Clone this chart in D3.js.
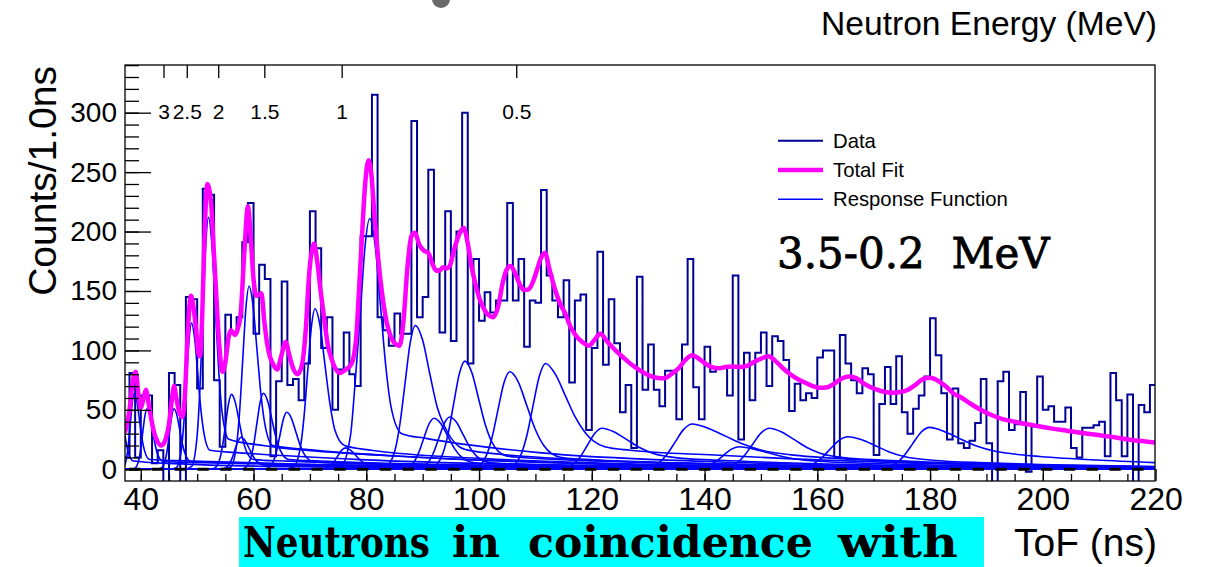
<!DOCTYPE html>
<html>
<head>
<meta charset="utf-8">
<script src="https://cdn.jsdelivr.net/npm/d3@7"></script>
<style>
  html, body { margin: 0; padding: 0; background: #fff; }
  svg { display: block; }
</style>
</head>
<body>
<svg id="chart" width="1210" height="567"></svg>
<script>
// ---------------- data ----------------
// Histogram: counts per 1 ns bin, first bin starts at 37 ns
const binStart = 37;
const binWidth = 1;
const counts = [
  10, 81, 10, 62, 62, 5, 16, -15, 81, 71, -15, 145, 143, 68, 236, 231, 75, 19,      // 37-54
  130, 114, 128, 191, 224, 114, 172, 160, 11, 74, 158, 71, 76, 58, 89, 217, 186,   // 55-71
  102, 128, 50, 84, 115, 80, 70, 196, 196, 315, 128, 117, 104, 131, 114, 114, 293, // 72-88
  128, 145, 252, 168, 115, 217, 108, 200, 300, 89, 177, 125, 149, 132, 142, 142,   // 89-104
  224, 142, 177, 103, 142, 140, 235, 163, 142, 128, 159, 73, 142, 147, 33, 102,    // 105-120
  183, 88, 143, 106, 48, 71, 18, 162, 67, 105, 67, 53, 83, 83, 42, 105, 177, 69,   // 121-138
  42, 103, 82, 86, 86, 62, 163, 25, 98, 58, 98, 115, 70, 112, 108, 92, 49, 72,     // 139-156
  58, 64, 60, 94, 100, 100, 10, 113, 89, 75, 64, 85, 80, 12, 55, 86, 55, 95, 48,   // 157-175
  30, 51, 62, 78, 127, 96, 64, 25, 68, 22, 18, 24, 39, 76, 22, -15, 74, 82, 33,    // 176-194
  38, 65, -2, 36, 78, 50, 53, 40, 40, 52, 18, 10, 35, 35, 37, 40, 11, 81, 58, 11,  // 195-214
  63, -15, 54, 48, 71                                                              // 215-219
];

// Total fit: [ToF (ns), counts]
const fitPoints = [
  [37.2,31],[38.0,50],[38.6,75],[39.1,82],[39.6,62],[40.0,52],[40.5,60],[40.9,67],[41.5,52],
  [42.3,32],[43.0,23],[43.6,20],[44.3,24],[45.0,38],[45.6,62],[45.9,70],[46.3,60],[46.9,47],
  [47.4,44],[47.8,60],[48.3,112],[48.9,146],[49.3,138],[49.8,118],[50.2,98],[50.5,95],[50.9,130],
  [51.3,195],[51.8,240],[52.5,222],[53.0,180],[53.3,154],[53.9,106],[54.5,82],[55.0,90],[55.6,112],
  [56.0,117],[56.7,113],[57.2,118],[57.7,130],[58.4,185],[59.0,221],[59.5,195],[60.0,160],
  [60.5,146],[61.0,147],[61.4,148],[61.9,125],[62.4,106],[62.9,95],[63.5,88],[64.2,84],[64.9,95],
  [65.7,107],[66.4,95],[67.1,84],[67.8,80],[68.6,88],[69.3,120],[69.8,160],[70.3,183],[70.7,190],
  [71.3,175],[71.9,150],[72.5,128],[73.2,104],[73.7,95],[74.5,85],[75.3,81],[76.4,84],[77.4,89],
  [78.2,110],[78.7,150],[79.2,193],[79.8,240],[80.4,260],[80.9,248],[81.5,210],[82.1,178],
  [82.8,148],[83.6,124],[84.4,111],[85.3,105],[85.9,104],[86.6,125],[87.3,170],[88.0,196],
  [88.6,199],[89.4,189],[90.2,184],[91.0,182],[91.8,172],[92.4,167],[93.0,167],[93.6,170],
  [94.2,169],[94.8,171],[95.6,185],[96.5,198],[97.3,203],[98.0,190],[98.7,170],[99.3,157],
  [100.2,142],[101.1,133],[101.9,129],[102.5,128],[103.4,137],[104.2,157],[104.9,168],[105.6,171],
  [106.3,166],[107.1,157],[107.9,151],[108.7,151],[109.5,157],[110.3,168],[111.0,178],[111.7,182],
  [112.5,168],[113.5,151],[114.4,139],[115.3,131],[116.2,120],[117.1,113],[118.3,107],[119.5,104],
  [120.5,109],[121.5,114],[122.8,107],[124.2,100],[125.6,94],[127.1,88],[128.6,83],[130.1,79],
  [131.5,77],[132.8,76.5],[134.1,80],[135.4,85],[136.6,92],[137.8,96],[139.0,93],[140.1,89],
  [141.3,86],[142.5,85],[143.7,86],[144.9,86.4],[146.3,86],[147.5,87],[148.7,90],[150.0,93],
  [151.3,95],[152.6,91],[153.9,85],[155.2,80],[156.5,76],[157.8,73],[159.2,70],[160.5,68.5],
  [161.8,69],[163.0,72],[164.2,76],[165.5,78],[166.8,77],[168.0,73],[169.3,69.5],[170.6,67],
  [172.0,65],[173.4,64.4],[174.8,65],[176.1,67],[177.4,71],[178.6,75.5],[179.7,77],[180.8,76],
  [181.9,73],[183.0,69],[184.1,64],[185.3,61],[186.6,57],[187.9,53],[189.2,49.5],[190.5,46.5],
  [191.8,44],[193.0,42],[194.5,40.5],[196.0,39],[197.8,37.5],[199.5,36],[202.0,34],[204.5,32.3],
  [207.0,30.5],[209.5,29],[212.0,27.5],[214.5,25.5],[217.0,24],[220.0,22.5]
];

// Individual response functions: [ToF (ns), counts]
const responseCurves = [
  [[35.3,30],[36.0,60],[36.45,54],[36.9,39],[37.35,24],[37.8,14],[38.7,7],[46,4.8],[66,2.2],[100,0.8],[220,0.1]],
  [[35.7,0],[36.75,0.7],[37.45,8.6],[37.8,20.8],[38.15,38.8],[38.5,56.5],[38.85,64],[39.3,57.4],[39.75,42],[40.2,26.4],[40.65,15.9],[41.55,8.3],[48.85,7],[68.85,4.2],[98.85,2],[138.85,0.7],[220,0.2]],
  [[37.2,0],[37.7,0],[38.85,0.6],[39.6,6.9],[39.98,16.6],[40.35,31],[40.73,45],[41.1,51],[41.58,45.7],[42.05,33.5],[42.53,21.1],[43.0,12.6],[43.95,6.6],[51.1,5.6],[71.1,3.4],[101.1,1.6],[141.1,0.6],[220,0.1]],
  [[37.2,0],[42.3,0],[43.5,0.6],[44.3,6.9],[44.7,16.6],[45.1,31],[45.5,45],[45.9,51],[46.4,45.7],[46.9,33.5],[47.4,21.1],[47.9,12.6],[48.9,6.6],[55.9,5.6],[75.9,3.4],[105.9,1.6],[145.9,0.6],[220,0.1]],
  [[37.2,0],[44.95,0],[46.3,1.4],[47.2,16.6],[47.65,40],[48.1,74.7],[48.55,108.5],[49.0,123],[49.55,110.3],[50.1,80.8],[50.65,50.8],[51.2,30.5],[52.3,16],[59,13.4],[79,8.1],[109,3.8],[149,1.4],[220,0.3]],
  [[37.2,0],[47.5,0],[49.0,2.3],[50.0,28.6],[50.5,68.9],[51.0,128.7],[51.5,187],[52.0,212],[52.6,189.7],[53.2,138],[53.8,85],[54.4,49],[55.6,25.3],[62,19.8],[82,12],[112,5.7],[152,2.1],[220,0.4]],
  [[37.2,0],[51.4,0],[52.95,0.7],[54.0,8.5],[54.53,20.5],[55.05,38.2],[55.58,55.6],[56.1,63],[56.75,56.5],[57.4,41.4],[58.05,26],[58.7,15.6],[60.0,8.2],[66.1,6.9],[86.1,4.2],[116.1,2.0],[156.1,0.7],[220,0.2]],
  [[37.2,0],[52.85,0],[54.5,0.3],[55.6,3.6],[56.15,8.8],[56.7,16.4],[57.25,23.8],[57.8,27],[58.5,24.2],[59.2,17.7],[59.9,11.2],[60.6,6.7],[62.0,3.5],[67.8,2.9],[87.8,1.8],[117.8,0.8],[157.8,0.3],[220,0.1]],
  [[37.2,0],[54.25,0],[55.9,1.7],[57.0,20.8],[57.55,50],[58.1,93.5],[58.65,135.9],[59.2,154],[59.9,138.1],[60.6,101.2],[61.3,63.6],[62.0,38.2],[63.4,20],[69.2,16.8],[89.2,10.2],[119.2,4.8],[159.2,1.8],[220,0.4]],
  [[37.2,0],[56.6,0],[58.3,0.7],[59.45,8.6],[60.03,20.8],[60.6,38.8],[61.18,56.5],[61.75,64],[62.5,57.4],[63.25,42],[64.0,26.4],[64.75,15.9],[66.25,8.3],[71.75,7],[91.75,4.2],[121.75,2],[161.75,0.7],[220,0.2]],
  [[37.2,0],[60.5,0],[62.3,0.5],[63.5,6.5],[64.1,15.6],[64.7,29.1],[65.3,42.4],[65.9,48],[66.7,43.1],[67.5,31.5],[68.3,19.8],[69.1,11.9],[70.7,6.2],[75.9,5.2],[95.9,3.2],[125.9,1.5],[165.9,0.6],[220,0.1]],
  [[37.2,0],[65.05,0],[67.0,1.5],[68.3,18.2],[68.95,43.9],[69.6,81.9],[70.25,119.1],[70.9,135],[71.78,121.1],[72.65,88.7],[73.53,55.8],[74.4,33.5],[76.15,20],[80.9,16],[100.9,9],[130.9,4.2],[170.9,1.6],[220,0.4]],
  [[37.2,0],[70.0,0],[72.1,0.2],[73.5,2.4],[74.2,5.9],[74.9,10.9],[75.6,15.9],[76.3,18],[77.2,16.1],[78.1,11.8],[79.0,7.4],[79.9,4.5],[81.7,2.3],[86.3,2.0],[106.3,1.2],[136.3,0.6],[176.3,0.2],[220,0.1]],
  [[37.2,0],[72.95,0],[75.5,2.3],[77.2,28.5],[77.95,68.6],[78.9,128.1],[79.75,186.2],[80.6,211],[81.55,189.3],[82.5,138.6],[83.45,87.1],[84.4,52.3],[86.3,30],[90.6,26],[110.6,14],[140.6,6.5],[180.6,2.4],[220,0.8]],
  [[37.2,0],[80.6,0],[83.3,1.3],[85.1,16.3],[86.0,39.3],[86.9,73.4],[87.8,106.8],[88.7,121],[90.0,108.5],[91.3,79.5],[92.6,52],[93.9,36],[96.5,19],[98.7,15.5],[118.7,8],[148.7,3.8],[188.7,1.4],[220,0.7]],
  [[37.2,0],[83.9,0],[86.6,0.5],[88.4,5.8],[89.3,14],[90.2,26.1],[91.1,37.9],[92.0,43],[93.2,38.6],[94.4,28.3],[95.6,17.8],[96.8,10.7],[99.2,5.5],[102,4.7],[122,2.8],[152,1.3],[192,0.5],[220,0.3]],
  [[37.2,0],[86.25,0],[89.1,0.5],[91.0,5.9],[91.95,14.3],[92.9,26.7],[93.85,38.8],[94.8,44],[96.0,39.5],[97.2,28.9],[98.4,18.2],[99.6,10.9],[102.0,5.6],[104.8,4.8],[124.8,2.9],[154.8,1.4],[194.8,0.5],[220,0.3]],
  [[37.2,0],[88.5,0],[91.5,1.0],[93.5,12.3],[94.5,29.6],[95.5,55.2],[96.5,80.3],[97.5,91],[98.7,81.6],[99.9,59.8],[101.1,37.6],[102.3,22.6],[104.7,11.5],[107.5,9.9],[127.5,6],[157.5,2.8],[197.5,1.0],[220,0.7]],
  [[37.2,0],[96.0,0],[99.15,0.9],[101.25,11.1],[102.3,26.7],[103.35,49.8],[104.4,72.4],[105.45,82],[106.95,73.6],[108.45,53.9],[109.95,33.9],[111.45,20.3],[114.45,10.2],[120.45,7.9],[135.45,5.4],[165.45,2.5],[205.45,0.9],[220,0.7]],
  [[37.2,0],[101.9,0],[105.2,1.0],[107.4,12],[108.5,28.9],[109.6,54],[110.7,78.5],[111.8,89],[113.55,79.8],[115.3,62],[117.05,44],[118.8,31],[122.3,19],[126.8,16],[141.8,12],[171.8,6],[211.8,2.5],[220,2.2]],
  [[37.2,0],[110.55,0],[114.3,0.4],[116.8,4.7],[118.05,11.2],[119.3,20.9],[120.55,30.4],[121.8,34.5],[124.05,31.2],[126.3,24.7],[128.55,18.1],[130.8,13.5],[135.3,9.6],[146.8,6.8],[161.8,4.4],[181.8,2.5],[220,0.8]],
  [[37.2,0],[124.3,0],[128.8,0.4],[131.8,5.1],[133.3,12.4],[134.8,23.1],[136.3,33.6],[137.8,38.1],[140.8,34.2],[143.8,27.7],[146.8,21.2],[149.8,16.5],[155.8,11.9],[162.8,9.3],[177.8,5.8],[197.8,3.0],[220,1.5]],
  [[37.2,0],[133.5,0],[137.7,0.2],[140.5,2.6],[141.9,6.2],[143.3,11.5],[144.7,16.8],[146.1,19],[148.6,17.2],[151.1,14.1],[153.6,11],[156.1,8.7],[161.1,6.5],[171.1,4.7],[186.1,2.9],[220,1.0]],
  [[37.2,0],[138,0],[142.5,0.4],[145.5,4.7],[147,11.2],[148.5,20.9],[150,30.4],[151.5,34.5],[153.75,31.2],[156,24.7],[158.25,18.1],[160.5,13.5],[165,9.6],[176.5,6.8],[191.5,4.4],[211.5,2.5],[220,2.0]],
  [[37.2,0],[151,0],[155.8,0.3],[159,3.7],[160.6,8.9],[162.2,16.6],[163.8,24.2],[165.4,27.4],[167.9,24.8],[170.4,19.6],[172.9,14.4],[175.4,10.7],[180.4,7.6],[190.4,5.4],[205.4,3.5],[220,2.4]],
  [[37.2,0],[166.4,0],[170.9,0.4],[173.9,4.8],[175.4,11.5],[176.9,21.4],[178.4,31.2],[179.9,35.3],[181.8,33.1],[183.8,29.2],[185.7,24.8],[188.5,19.1],[191.8,14.9],[195.5,12.5],[199.5,10.8],[209.5,7.8],[219.9,5.6]]
];

// Axis ticks and labels
const tofTicks = [40, 60, 80, 100, 120, 140, 160, 180, 200, 220];
const countTicks = [0, 50, 100, 150, 200, 250, 300];
const energyTicks = [3, 2.5, 2, 1.5, 1, 0.5];
const legendLabels = ["Data", "Total Fit", "Response Function"];
const rangeLabel = "3.5-0.2  MeV";
const captionWords = ["Neutrons", "in", "coincidence", "with"];

// ToF of a neutron of energy E (MeV) over the flight path
const flightTimeNs = 74.76;   // ns * sqrt(MeV)
const timeOffsetNs = 0.96;
const tofOfEnergy = E => flightTimeNs / Math.sqrt(E) + timeOffsetNs;

// ---------------- layout ----------------
const frame = { left: 125, right: 1155, top: 65, bottom: 481 };
const sans = "'Liberation Sans', Arial, Helvetica, sans-serif";
const colData = "#000096", colFit = "#ff00ff", colResp = "#0000ff";

const svg = d3.select("#chart");

const x = d3.scaleLinear().domain([37.2, 219.9]).range([frame.left, frame.right]);
const y = d3.scaleLinear().domain([-9.84, 340.1]).range([frame.bottom, frame.top]);

svg.append("defs").append("clipPath").attr("id", "plotClip")
  .append("rect")
  .attr("x", frame.left).attr("y", frame.top)
  .attr("width", frame.right - frame.left).attr("height", frame.bottom - frame.top);

const plot = svg.append("g").attr("clip-path", "url(#plotClip)");

// histogram outline
const histPts = counts.map((c, i) => [binStart + i * binWidth, c]);
histPts.push([binStart + counts.length * binWidth, counts[counts.length - 1]]);
plot.append("path")
  .attr("d", d3.line().x(d => x(d[0])).y(d => y(d[1])).curve(d3.curveStepAfter)(histPts))
  .attr("fill", "none").attr("stroke", colData).attr("stroke-width", 2);

// response functions
const smoothLine = d3.line().x(d => x(d[0])).y(d => y(d[1])).curve(d3.curveMonotoneX);
plot.selectAll("path.resp").data(responseCurves).join("path")
  .attr("class", "resp")
  .attr("d", smoothLine)
  .attr("fill", "none").attr("stroke", colResp).attr("stroke-width", 1.6);

// zero line
plot.append("line")
  .attr("x1", frame.left).attr("x2", frame.right)
  .attr("y1", y(0)).attr("y2", y(0))
  .attr("stroke", "#000").attr("stroke-width", 3)
  .attr("stroke-dasharray", "11.4 11.4").attr("stroke-dashoffset", 18.8);

// total fit
plot.append("path")
  .attr("d", smoothLine(fitPoints))
  .attr("fill", "none").attr("stroke", colFit).attr("stroke-width", 4.5)
  .attr("stroke-linejoin", "round");

// frame
svg.append("rect")
  .attr("x", frame.left).attr("y", frame.top)
  .attr("width", frame.right - frame.left).attr("height", frame.bottom - frame.top)
  .attr("fill", "none").attr("stroke", "#000").attr("stroke-width", 1.3);

// bottom axis (ToF)
const gxMinor = svg.append("g").attr("transform", `translate(0,${frame.bottom})`)
  .call(d3.axisBottom(x).tickValues(d3.range(40, 220, 5)).tickSize(-7).tickFormat(""));
gxMinor.select(".domain").remove();
const gx = svg.append("g").attr("transform", `translate(0,${frame.bottom})`)
  .call(d3.axisBottom(x).tickValues(tofTicks).tickSize(-12).tickPadding(6).tickFormat(d3.format("d")));
gx.select(".domain").remove();
gx.attr("font-family", sans).attr("font-size", 32);
gx.selectAll("text").attr("fill", "#000");

// left axis (counts)
const gyMinor = svg.append("g").attr("transform", `translate(${frame.left},0)`)
  .call(d3.axisLeft(y).tickValues(d3.range(0, 341, 10)).tickSize(-14).tickFormat(""));
gyMinor.select(".domain").remove();
const gy = svg.append("g").attr("transform", `translate(${frame.left},0)`)
  .call(d3.axisLeft(y).tickValues(countTicks).tickSize(-26).tickPadding(8).tickFormat(d3.format("d")));
gy.select(".domain").remove();
gy.attr("font-family", sans).attr("font-size", 28);
gy.selectAll("text").attr("fill", "#000");
svg.selectAll(".tick line").attr("stroke", "#000").attr("stroke-width", 1.3);

// top axis (neutron energy)
const gTop = svg.append("g");
gTop.selectAll("line").data(energyTicks).join("line")
  .attr("x1", d => x(tofOfEnergy(d))).attr("x2", d => x(tofOfEnergy(d)))
  .attr("y1", frame.top).attr("y2", frame.top + 13)
  .attr("stroke", "#000").attr("stroke-width", 1.3);
gTop.selectAll("text").data(energyTicks).join("text")
  .attr("x", d => x(tofOfEnergy(d))).attr("y", 119)
  .attr("text-anchor", "middle")
  .attr("font-family", sans).attr("font-size", 21)
  .text(d => String(d));

// axis titles
svg.append("text")
  .attr("transform", `translate(56,${frame.top + 1}) rotate(-90)`)
  .attr("text-anchor", "end")
  .attr("font-family", sans).attr("font-size", 39)
  .text("Counts/1.0ns");
svg.append("text")
  .attr("x", 1157).attr("y", 556).attr("text-anchor", "end")
  .attr("font-family", sans).attr("font-size", 39)
  .text("ToF (ns)");
svg.append("text")
  .attr("x", 1157).attr("y", 35).attr("text-anchor", "end")
  .attr("font-family", sans).attr("font-size", 33.6)
  .text("Neutron Energy (MeV)");

// legend
const legendStyles = [
  { color: colData, width: 2 },
  { color: colFit, width: 4.5 },
  { color: colResp, width: 1.6 }
];
const legend = svg.append("g");
legendLabels.forEach((label, i) => {
  const ly = 140.7 + i * 29.3;
  legend.append("line")
    .attr("x1", 778).attr("x2", 823).attr("y1", ly).attr("y2", ly)
    .attr("stroke", legendStyles[i].color).attr("stroke-width", legendStyles[i].width);
  legend.append("text")
    .attr("x", 833).attr("y", ly + 7)
    .attr("font-family", sans).attr("font-size", 20.3)
    .text(label);
});

// energy range label
svg.append("text")
  .attr("x", 777).attr("y", 268)
  .attr("font-family", "'DejaVu Serif', serif").attr("font-size", 42)
  .attr("stroke", "#000").attr("stroke-width", 0.8)
  .style("white-space", "pre")
  .text(rangeLabel);

// top marker
svg.append("circle").attr("cx", 441).attr("cy", -1).attr("r", 9).attr("fill", "#6a6a6a");

// caption box: tall, condensed bold serif (glyphs stretched vertically)
svg.append("rect").attr("x", 239).attr("y", 517).attr("width", 745).attr("height", 50).attr("fill", "#00ffff");
const wordBoxes = [[243, 187], [452, 48], [528, 285], [838, 120]];
svg.append("text")
  .attr("transform", "translate(0,557) scale(1,1.265)")
  .attr("y", 0)
  .attr("font-family", "'DejaVu Serif', serif").attr("font-weight", "bold").attr("font-size", 34)
  .selectAll("tspan").data(captionWords).join("tspan")
  .attr("x", (d, i) => wordBoxes[i][0])
  .attr("textLength", (d, i) => wordBoxes[i][1])
  .attr("lengthAdjust", "spacingAndGlyphs")
  .text(d => d);
</script>
</body>
</html>
